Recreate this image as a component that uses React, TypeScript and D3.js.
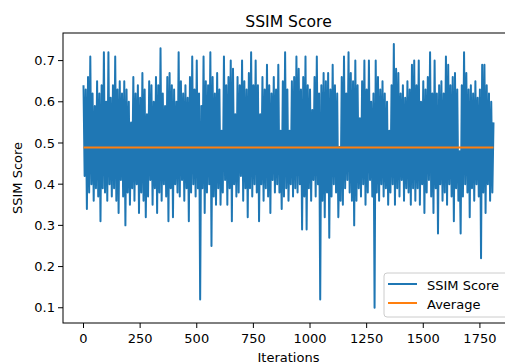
import React from "react";
import * as d3 from "d3";

// Iterations between stored samples (the chart is read every 5 iterations)
const iterationStep = 5;

// SSIM scores, in iteration order
const ssimScores: number[] = [
  0.64, 0.42, 0.63, 0.34, 0.66, 0.38, 0.71, 0.40, 0.62, 0.36,
  0.59, 0.39, 0.65, 0.37, 0.62, 0.31, 0.64, 0.39, 0.72, 0.38,
  0.60, 0.36, 0.72, 0.40, 0.61, 0.37, 0.64, 0.39, 0.71, 0.36,
  0.63, 0.33, 0.65, 0.41, 0.62, 0.37, 0.65, 0.30, 0.63, 0.38,
  0.60, 0.35, 0.55, 0.39, 0.66, 0.36, 0.62, 0.40, 0.64, 0.33,
  0.61, 0.38, 0.67, 0.36, 0.63, 0.32, 0.57, 0.37, 0.65, 0.41,
  0.64, 0.35, 0.60, 0.39, 0.66, 0.33, 0.64, 0.38, 0.73, 0.36,
  0.62, 0.40, 0.59, 0.37, 0.66, 0.31, 0.67, 0.39, 0.64, 0.32,
  0.63, 0.40, 0.60, 0.38, 0.72, 0.37, 0.65, 0.41, 0.62, 0.36,
  0.64, 0.39, 0.61, 0.31, 0.66, 0.38, 0.71, 0.40, 0.63, 0.37,
  0.70, 0.39, 0.62, 0.12, 0.59, 0.39, 0.71, 0.33, 0.65, 0.38,
  0.64, 0.40, 0.72, 0.25, 0.66, 0.37, 0.62, 0.35, 0.67, 0.39,
  0.63, 0.35, 0.53, 0.38, 0.71, 0.41, 0.64, 0.35, 0.66, 0.39,
  0.70, 0.31, 0.68, 0.40, 0.57, 0.37, 0.66, 0.38, 0.64, 0.42,
  0.70, 0.36, 0.65, 0.39, 0.63, 0.32, 0.67, 0.39, 0.72, 0.37,
  0.64, 0.40, 0.70, 0.38, 0.64, 0.31, 0.57, 0.40, 0.66, 0.36,
  0.63, 0.39, 0.69, 0.37, 0.64, 0.33, 0.62, 0.41, 0.66, 0.38,
  0.63, 0.40, 0.69, 0.38, 0.53, 0.34, 0.65, 0.37, 0.72, 0.39,
  0.63, 0.36, 0.53, 0.40, 0.65, 0.37, 0.66, 0.39, 0.71, 0.38,
  0.68, 0.40, 0.63, 0.29, 0.66, 0.37, 0.71, 0.29, 0.64, 0.39,
  0.63, 0.36, 0.58, 0.41, 0.66, 0.37, 0.71, 0.40, 0.62, 0.12,
  0.64, 0.36, 0.67, 0.32, 0.65, 0.38, 0.67, 0.27, 0.63, 0.37,
  0.69, 0.40, 0.64, 0.38, 0.62, 0.32, 0.49, 0.36, 0.66, 0.35,
  0.71, 0.39, 0.62, 0.41, 0.72, 0.38, 0.67, 0.36, 0.65, 0.30,
  0.70, 0.36, 0.64, 0.39, 0.56, 0.37, 0.65, 0.40, 0.70, 0.35,
  0.63, 0.38, 0.70, 0.41, 0.60, 0.37, 0.62, 0.10, 0.70, 0.38,
  0.66, 0.36, 0.63, 0.40, 0.65, 0.37, 0.62, 0.39, 0.60, 0.35,
  0.53, 0.38, 0.64, 0.40, 0.74, 0.35, 0.68, 0.39, 0.67, 0.37,
  0.62, 0.41, 0.64, 0.36, 0.61, 0.39, 0.65, 0.38, 0.63, 0.35,
  0.69, 0.39, 0.70, 0.36, 0.64, 0.39, 0.70, 0.35, 0.60, 0.40,
  0.65, 0.33, 0.63, 0.38, 0.66, 0.41, 0.72, 0.37, 0.62, 0.33,
  0.70, 0.39, 0.62, 0.28, 0.64, 0.40, 0.65, 0.36, 0.62, 0.38,
  0.71, 0.35, 0.69, 0.40, 0.64, 0.37, 0.66, 0.31, 0.67, 0.39,
  0.63, 0.36, 0.48, 0.28, 0.64, 0.37, 0.72, 0.40, 0.67, 0.38,
  0.63, 0.32, 0.64, 0.39, 0.62, 0.36, 0.65, 0.40, 0.61, 0.37,
  0.63, 0.22, 0.69, 0.38, 0.69, 0.33, 0.64, 0.40, 0.62, 0.36,
  0.60, 0.38, 0.55,
];

// Average SSIM line value
const averageScore = 0.489;

const xTicks = [0, 250, 500, 750, 1000, 1250, 1500, 1750];
const yTicks = [0.1, 0.2, 0.3, 0.4, 0.5, 0.6, 0.7];

const titleText = "SSIM Score";
const xLabelText = "Iterations";
const yLabelText = "SSIM Score";
const legendLabels = ["SSIM Score", "Average"];

const W = 505;
const H = 363;
const left = 63;
const right = 514;
const top = 33;
const bottom = 323;

const BLUE = "#1f77b4";
const ORANGE = "#ff7f0e";
const FONT = "DejaVu Sans, sans-serif";

export default function App() {
  const points = ssimScores.map((v, i) => ({ it: i * iterationStep, v }));
  const xExt = d3.extent(points, (d) => d.it) as [number, number];
  const xPad = (xExt[1] - xExt[0]) * 0.05;
  const x = d3.scaleLinear().domain([xExt[0] - xPad, xExt[1] + xPad]).range([left, right]);
  const y = d3.scaleLinear().domain([0.063, 0.767]).range([bottom, top]);

  const line = d3
    .line<{ it: number; v: number }>()
    .x((d) => x(d.it))
    .y((d) => y(d.v));

  const avgPath = d3.line<number>().x((d) => x(d)).y(() => y(averageScore))(xExt);

  return (
    <svg
      width={W}
      height={H}
      style={{ position: "absolute", left: 0, top: 0, background: "#fff" }}
      fontFamily={FONT}
    >
      <defs>
        <clipPath id="plotclip">
          <rect x={left} y={top} width={right - left} height={bottom - top} />
        </clipPath>
      </defs>
      <rect x={0} y={0} width={W} height={H} fill="#fff" />
      <g clipPath="url(#plotclip)">
        <path d={line(points) || ""} fill="none" stroke={BLUE} strokeWidth={2} strokeLinejoin="round" />
        <path d={avgPath || ""} fill="none" stroke={ORANGE} strokeWidth={2} />
      </g>
      <rect x={left} y={top} width={right - left} height={bottom - top} fill="none" stroke="#000" strokeWidth={1} />
      {xTicks.map((t) => (
        <g key={"x" + t}>
          <line x1={x(t)} x2={x(t)} y1={bottom} y2={bottom + 5} stroke="#000" strokeWidth={1} />
          <text x={x(t)} y={bottom + 20} fontSize={13} textAnchor="middle" fill="#000">
            {t}
          </text>
        </g>
      ))}
      {yTicks.map((t) => (
        <g key={"y" + t}>
          <line x1={left - 5} x2={left} y1={y(t)} y2={y(t)} stroke="#000" strokeWidth={1} />
          <text x={left - 8} y={y(t) + 4.7} fontSize={13} textAnchor="end" fill="#000">
            {d3.format(".1f")(t)}
          </text>
        </g>
      ))}
      <text x={(left + right) / 2} y={26.5} fontSize={15.6} textAnchor="middle" fill="#000">
        {titleText}
      </text>
      <text x={(left + right) / 2} y={362} fontSize={13} textAnchor="middle" fill="#000">
        {xLabelText}
      </text>
      <text
        transform={`translate(21.5,${(top + bottom) / 2}) rotate(-90)`}
        fontSize={13}
        textAnchor="middle"
        fill="#000"
      >
        {yLabelText}
      </text>
      <g>
        <rect x={384} y={273} width={140} height={44} rx={3} fill="#fff" fillOpacity={0.8} stroke="#ccc" strokeWidth={1} />
        {legendLabels.map((lab, i) => (
          <g key={lab}>
            <line
              x1={388}
              x2={417}
              y1={284 + i * 19}
              y2={284 + i * 19}
              stroke={i === 0 ? BLUE : ORANGE}
              strokeWidth={2}
            />
            <text x={427} y={289.5 + i * 19} fontSize={13} fill="#000">
              {lab}
            </text>
          </g>
        ))}
      </g>
    </svg>
  );
}
